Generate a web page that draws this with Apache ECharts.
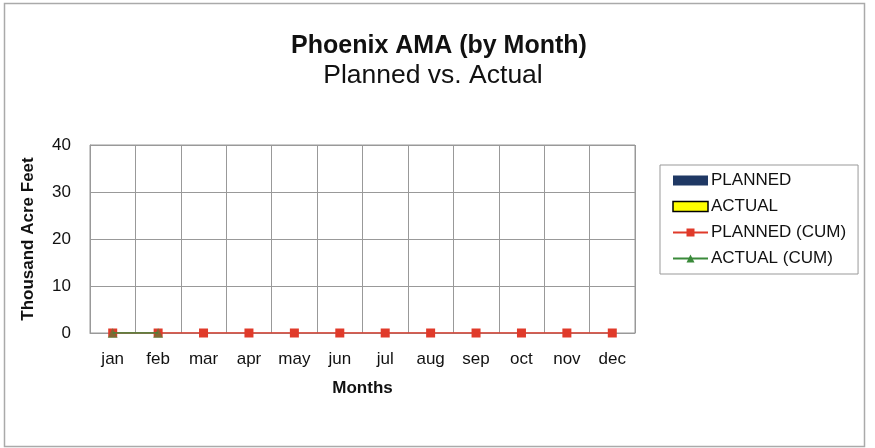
<!DOCTYPE html>
<html><head><meta charset="utf-8">
<script src="https://cdn.jsdelivr.net/npm/echarts@6/dist/echarts.min.js"></script>
<style>html,body{margin:0;padding:0;background:#fff}#c{width:875px;height:448px}</style>
</head><body><div id="c"></div>
<script>
const months = ['jan','feb','mar','apr','may','jun','jul','aug','sep','oct','nov','dec'];
const planned = [0,0,0,0,0,0,0,0,0,0,0,0];
const actual = [0,0,0,0,0,0,0,0,0,0,0,0];
const plannedCum = [0,0,0,0,0,0,0,0,0,0,0,0];
const actualCum = [0,0,null,null,null,null,null,null,null,null,null,null];
const yTicks = {min:0, max:40, interval:10};

const chart = echarts.init(document.getElementById('c'));
const font = 'Liberation Sans, Arial, sans-serif';
chart.setOption({
  animation:false,
  graphic:[{type:'rect',shape:{x:4.5,y:3.5,width:860,height:443},style:{fill:'none',stroke:'#aaaaaa',lineWidth:1.5},silent:true}],
  title:[
    {text:'Phoenix AMA (by Month)',left:434,top:29,textAlign:'center',textStyle:{fontFamily:font,fontSize:25,fontWeight:'bold',color:'#111'}},
    {text:'Planned vs. Actual',left:428,top:57,textAlign:'center',textStyle:{fontFamily:font,fontSize:26.5,fontWeight:'normal',color:'#111'}}
  ],
  grid:{left:90,top:145,width:545,height:188,show:true,borderColor:'#999',borderWidth:1},
  legend:{
    orient:'vertical',left:660,top:165,width:198,itemGap:9,itemWidth:35,itemHeight:10,
    borderColor:'#999',borderWidth:1,padding:[7,12,7,12],
    textStyle:{fontFamily:font,fontSize:17,color:'#111',padding:[0,0,0,-2]},
    data:[
      {name:'PLANNED',icon:'rect'},
      {name:'ACTUAL',icon:'rect',itemStyle:{color:'#ffff00',borderColor:'#000',borderWidth:1.5}},
      {name:'PLANNED (CUM)'},
      {name:'ACTUAL (CUM)',itemStyle:{color:'#3a8a3a',opacity:1}}
    ]
  },
  xAxis:{type:'category',data:months,boundaryGap:true,
    name:'Months',nameLocation:'middle',nameGap:47,
    nameTextStyle:{fontFamily:font,fontSize:17,fontWeight:'bold',color:'#111'},
    axisLine:{lineStyle:{color:'#999'}},axisTick:{show:false},
    axisLabel:{fontFamily:font,fontSize:17,color:'#111',margin:18},
    splitLine:{show:true,interval:0,lineStyle:{color:'#999'}}
  },
  yAxis:{type:'value',min:yTicks.min,max:yTicks.max,interval:yTicks.interval,
    name:'Thousand Acre Feet',nameLocation:'middle',nameGap:53,
    nameTextStyle:{fontFamily:font,fontSize:17,fontWeight:'bold',color:'#111'},
    axisLine:{show:true,lineStyle:{color:'#999'}},axisTick:{show:false},
    axisLabel:{fontFamily:font,fontSize:17,color:'#111',margin:19},
    splitLine:{lineStyle:{color:'#999'}}
  },
  series:[
    {name:'PLANNED',type:'bar',data:planned,itemStyle:{color:'#1f3864'},barGap:'0%'},
    {name:'ACTUAL',type:'bar',data:actual,itemStyle:{color:'#ffff00',borderWidth:0}},
    {name:'PLANNED (CUM)',type:'line',data:plannedCum,symbol:'rect',symbolSize:9,
      itemStyle:{color:'#e03a2a'},lineStyle:{color:'#e03a2a',width:1.5},z:3},
    {name:'ACTUAL (CUM)',type:'line',data:actualCum,symbol:'triangle',symbolSize:10,
      itemStyle:{color:'#3a8a3a',opacity:0.55},lineStyle:{color:'#3a8a3a',width:1.5,opacity:1},z:4}
  ]
});
</script></body></html>
